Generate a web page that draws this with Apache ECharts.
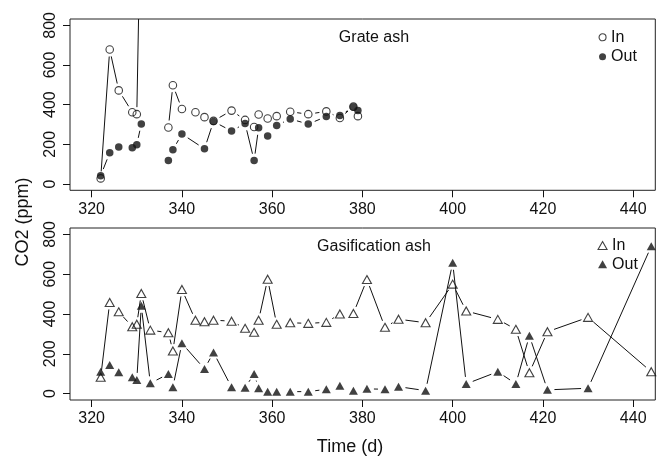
<!DOCTYPE html>
<html><head><meta charset="utf-8">
<script src="https://cdn.jsdelivr.net/npm/echarts@6/dist/echarts.min.js"></script>
<style>html,body{margin:0;padding:0;background:#fff}#c{width:663px;height:456px}</style>
</head><body><div id="c"></div>
<script>
// ---- data ----
const xTicks = [320, 340, 360, 380, 400, 420, 440];
const yTicks = [0, 200, 400, 600, 800];

// Grate ash (null = break in the line)
const grateInX  = [322, 324, 326, 329, 330, 331, null, 337, 338, 340, 343, 345, 347, 351, 354, 356, 357, 359, 361, 364, 368, 372, 375, 378, 379];
const grateInY  = [28, 678, 472, 362, 352, 1580, null, 285, 498, 378, 362, 337, 318, 370, 323, 287, 350, 330, 342, 364, 352, 366, 333, 390, 342];
const grateOutX = [322, 324, 326, 329, 330, 331, null, 337, 338, 340, 345, 347, 351, 354, 356, 357, 359, 361, 364, 368, 372, 375, 378, 379];
const grateOutY = [42, 157, 187, 183, 198, 303, null, 118, 172, 252, 177, 315, 267, 305, 118, 283, 242, 295, 328, 302, 340, 345, 388, 370];

// Gasification ash
const gasInX  = [322, 324, 326, 329, 330, 331, 333, 337, 338, 340, 343, 345, 347, 351, 354, 356, 357, 359, 361, 364, 368, 372, 375, 378, 381, 385, 388, 394, 400, 403, 410, 414, 417, 421, 430, 444];
const gasInY  = [82, 458, 411, 336, 349, 503, 319, 306, 214, 523, 369, 361, 369, 364, 328, 308, 369, 575, 348, 356, 353, 358, 400, 403, 573, 333, 374, 356, 550, 415, 373, 323, 105, 311, 383, 110];
const gasOutX = [322, 324, 326, 329, 330, 331, 333, 337, 338, 340, 345, 347, 351, 354, 356, 357, 359, 361, 364, 368, 372, 375, 378, 381, 385, 388, 394, 400, 403, 410, 414, 417, 421, 430, 444];
const gasOutY = [110, 144, 107, 82, 69, 441, 52, 99, 32, 253, 124, 207, 32, 30, 99, 27, 10, 10, 10, 10, 22, 40, 15, 24, 22, 35, 15, 657, 49, 110, 49, 291, 19, 27, 740];

// ---- helpers ----
const FONT = '"Liberation Sans", Arial, Helvetica, sans-serif';
const INK = '#111';
const GAP = 7;

function segs(xs, ys) {
  const out = [];
  for (let i = 0; i < xs.length - 1; i++) {
    if (ys[i] == null || ys[i + 1] == null) continue;
    out.push([xs[i], ys[i], xs[i + 1], ys[i + 1]]);
  }
  return out;
}
function pts(xs, ys) {
  return xs.map((x, i) => [x, ys[i]]).filter(p => p[1] != null);
}
function segRender(params, api) {
  const p1 = api.coord([api.value(0), api.value(1)]);
  const p2 = api.coord([api.value(2), api.value(3)]);
  const dx = p2[0] - p1[0], dy = p2[1] - p1[1];
  const d = Math.hypot(dx, dy);
  if (d <= 2 * GAP + 0.5) return null;
  const ux = dx / d, uy = dy / d;
  return {
    type: 'line',
    shape: { x1: p1[0] + ux * GAP, y1: p1[1] + uy * GAP, x2: p2[0] - ux * GAP, y2: p2[1] - uy * GAP },
    style: { stroke: INK, lineWidth: 1 }
  };
}
function lineSeries(gi, xs, ys) {
  return {
    type: 'custom', xAxisIndex: gi, yAxisIndex: gi, clip: true, silent: true,
    renderItem: segRender, encode: { x: [0, 2], y: [1, 3] },
    data: segs(xs, ys), z: 2
  };
}
function pointSeries(gi, name, xs, ys, symbol, size, filled) {
  return {
    type: 'scatter', name: name, xAxisIndex: gi, yAxisIndex: gi, clip: true, silent: true,
    symbol: symbol, symbolSize: size,
    itemStyle: filled ? { color: INK, borderWidth: 0 } : { color: 'rgba(0,0,0,0)', borderColor: INK, borderWidth: 1.1 },
    data: pts(xs, ys), z: filled ? 4 : 3
  };
}
function xAxis(gi) {
  return {
    type: 'value', gridIndex: gi, min: 315.2, max: 444.9,
    splitLine: { show: false },
    axisLine: { show: false, onZero: false },
    axisTick: { show: true, customValues: xTicks, length: 7, lineStyle: { color: INK, width: 1 } },
    axisLabel: { customValues: xTicks, margin: 11, fontSize: 16, fontFamily: FONT, color: INK }
  };
}
function yAxis(gi) {
  return {
    type: 'value', gridIndex: gi, min: -32, max: 832,
    splitLine: { show: false },
    axisLine: { show: false, onZero: false },
    axisTick: { show: true, customValues: yTicks, length: 7, lineStyle: { color: INK, width: 1 } },
    axisLabel: { customValues: yTicks, rotate: 90, margin: 11, fontSize: 16, fontFamily: FONT, color: INK }
  };
}
const legendText = { fontSize: 16, fontFamily: FONT, color: INK, lineHeight: 16 };

const chart = echarts.init(document.getElementById('c'), null, { renderer: 'canvas' });
chart.setOption({
  animation: false,
  backgroundColor: '#fff',
  grid: [
    { left: 70, right: 7.7, top: 19, height: 171.3, show: true, borderColor: '#222', borderWidth: 1, backgroundColor: 'transparent' },
    { left: 70, right: 7.7, top: 228, height: 172, show: true, borderColor: '#222', borderWidth: 1, backgroundColor: 'transparent' }
  ],
  xAxis: [xAxis(0), xAxis(1)],
  yAxis: [yAxis(0), yAxis(1)],
  legend: [
    {
      orient: 'vertical', left: 598.5, top: 29.3, padding: 0, itemGap: 3.4,
      itemWidth: 7, itemHeight: 7, selectedMode: false, textStyle: legendText,
      data: [
        { name: 'In', icon: 'circle', itemStyle: { color: 'rgba(0,0,0,0)', borderColor: INK, borderWidth: 1.1 } },
        { name: 'Out', icon: 'circle', itemStyle: { color: INK, borderWidth: 0 } }
      ]
    },
    {
      orient: 'vertical', left: 597.5, top: 237.5, padding: 0, itemGap: 2.8,
      itemWidth: 9, itemHeight: 8, selectedMode: false, textStyle: legendText,
      data: [
        { name: 'In', icon: 'triangle', itemStyle: { color: 'rgba(0,0,0,0)', borderColor: INK, borderWidth: 1.1 } },
        { name: 'Out', icon: 'triangle', itemStyle: { color: INK, borderWidth: 0 } }
      ]
    }
  ],
  graphic: [
    { type: 'text', x: 374, y: 38, style: { text: 'Grate ash', fontSize: 16, fontFamily: FONT, fill: INK, align: 'center', verticalAlign: 'middle' } },
    { type: 'text', x: 374, y: 246.7, style: { text: 'Gasification ash', fontSize: 16, fontFamily: FONT, fill: INK, align: 'center', verticalAlign: 'middle' } },
    { type: 'text', x: 350, y: 446.7, style: { text: 'Time (d)', fontSize: 18, fontFamily: FONT, fill: INK, align: 'center', verticalAlign: 'middle' } },
    { type: 'text', x: 23, y: 222, rotation: Math.PI / 2, style: { text: 'CO2 (ppm)', fontSize: 18, fontFamily: FONT, fill: INK, align: 'center', verticalAlign: 'middle' } }
  ],
  series: [
    lineSeries(0, grateInX, grateInY),
    lineSeries(0, grateOutX, grateOutY),
    pointSeries(0, 'In', grateInX, grateInY, 'circle', 7.5, false),
    pointSeries(0, 'Out', grateOutX, grateOutY, 'circle', 7.5, true),
    lineSeries(1, gasInX, gasInY),
    lineSeries(1, gasOutX, gasOutY),
    pointSeries(1, 'In', gasInX, gasInY, 'triangle', [9, 8], false),
    pointSeries(1, 'Out', gasOutX, gasOutY, 'triangle', [9, 8], true)
  ]
});
</script>
</body></html>
